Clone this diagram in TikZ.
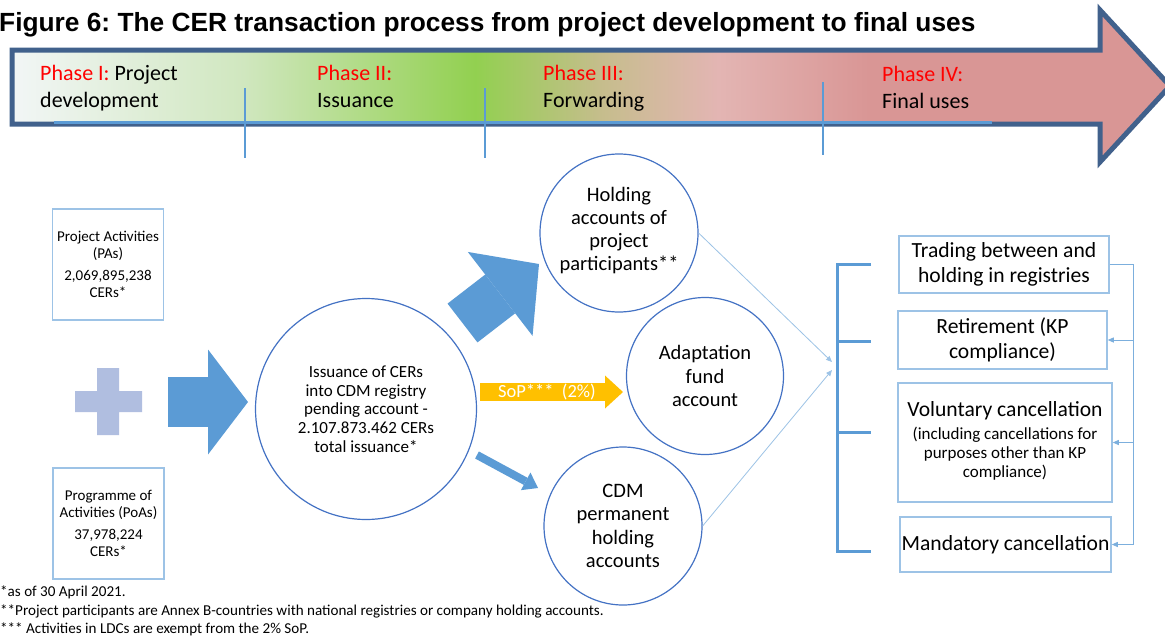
\documentclass[tikz,border=0pt]{standalone}
\usepackage{fontspec}
\setmainfont{Carlito}
\newfontfamily\titlefont{Liberation Sans}
\usetikzlibrary{arrows.meta,calc}
\definecolor{phaseedge}{HTML}{41618C}
\definecolor{sepblue}{HTML}{5B9BD5}
\definecolor{boxblue}{HTML}{9DC3E6}
\definecolor{circblue}{HTML}{4472C4}
\definecolor{blockblue}{HTML}{5B9BD5}
\definecolor{plusblue}{HTML}{B0BEE0}
\definecolor{sopyellow}{HTML}{FFC000}
\definecolor{phasered}{HTML}{FF0000}
\definecolor{gA}{HTML}{F2F6F6}
\definecolor{gB}{HTML}{D0E7BF}
\definecolor{gC}{HTML}{92D050}
\definecolor{gD}{HTML}{C6BD8D}
\definecolor{gE}{HTML}{E3B5B3}
\definecolor{gF}{HTML}{D99695}
\pgfdeclarehorizontalshading{phaseshade}{100bp}{color(0bp)=(gA); color(25bp)=(gA); color(35bp)=(gB); color(45bp)=(gC); color(50.5bp)=(gD); color(55.5bp)=(gE); color(62bp)=(gF); color(100bp)=(gF)}
\frenchspacing
\begin{document}
\begin{tikzpicture}[x=1pt,y=-1pt,
  phasetxt/.style={anchor=west, align=left, inner sep=0pt, font=\fontsize{22}{27}\selectfont},
  sepline/.style={draw=sepblue, line width=2pt},
  srcbox/.style={draw=boxblue, line width=1.5pt, minimum width=111pt, minimum height=111pt, align=center, inner sep=0pt, font=\fontsize{15}{17}\selectfont},
  acct/.style={circle, draw=circblue, line width=1.2pt, align=center, inner sep=0pt, font=\fontsize{20.5}{23.3}\selectfont},
  usebox/.style={draw=boxblue, line width=1.5pt, align=center, inner sep=0pt, font=\fontsize{21.6}{24.5}\selectfont},
  thinarrow/.style={draw=boxblue, line width=0.8pt, -{Triangle[length=6pt,width=5pt]}},
  fbline/.style={draw=sepblue!80, line width=0.8pt},
  fbarrow/.style={draw=sepblue!80, line width=0.8pt, -{Triangle[length=6pt,width=5pt]}},
  bracketline/.style={draw=sepblue, line width=3pt},
  note/.style={anchor=west, inner sep=0pt, font=\fontsize{15.1}{19}\selectfont}
]
\useasboundingbox (0,0) rectangle (1165,635);
\fill[white] (0,0) rectangle (1165,635);

% title
\node[anchor=base west, inner sep=0pt, font=\titlefont\bfseries\fontsize{26.3}{30}\selectfont] (title) at (-1,31) {Figure 6: The CER transaction process from project development to final uses};

% phase arrow
\shadedraw[shading=phaseshade, draw=phaseedge, line width=5pt, line join=miter] (12,50) -- (1100,50) -- (1100,10) -- (1170,86) -- (1100,162) -- (1100,124) -- (12,124) -- cycle;
\draw[sepblue, line width=3pt] (54,122.5) -- (992,122.5);
\draw[sepline] (245,88) -- (245,158);
\draw[sepline] (485,88) -- (485,158);
\draw[sepline] (823,82) -- (823,155);

\node[phasetxt] (p1) at (40,89) {\strut\textcolor{phasered}{Phase I:} Project\\\strut development};
\node[phasetxt] (p2) at (317,89) {\strut\textcolor{phasered}{Phase II:}\\\strut Issuance};
\node[phasetxt] (p3) at (543,89) {\strut\textcolor{phasered}{Phase III:}\\\strut Forwarding};
\node[phasetxt] (p4) at (882,90) {\strut\textcolor{phasered}{Phase IV:}\\\strut Final uses};

% source boxes
\node[srcbox] (pa) at (108,264.5) {Project Activities\\(PAs)\\[5pt]2,069,895,238\\CERs*};
\node[srcbox] (poa) at (108.5,523.5) {Programme of\\Activities (PoAs)\\[5pt]37,978,224\\CERs*};
\fill[plusblue] (97,368) rectangle (119,435) (75,391) rectangle (142,412);

% circles
\node[acct, minimum size=221pt, font=\fontsize{17}{18.75}\selectfont] (iss) at (366,409) {Issuance of CERs\\into CDM registry\\pending account -\\2.107.873.462 CERs\\total issuance*};
\node[acct, minimum size=158pt] (hold) at (619,233) {Holding\\accounts of\\project\\participants**\\[-15pt]\mbox{}};
\node[acct, minimum size=157pt] (adapt) at (705,376) {Adaptation\\fund\\account};
\node[acct, minimum size=158pt] (cdm) at (623,526) {CDM\\permanent\\holding\\accounts};

% block arrows
\coordinate (a1s) at (168,402); \coordinate (a1e) at (248,402);
\draw[blockblue, line width=50pt, -{Triangle[length=40pt,width=105pt,line width=0pt]}] (a1s) -- (a1e);
\coordinate (a2s) at (462.5,323); \coordinate (a2e) at (539,264);
\draw[blockblue, line width=49pt, -{Triangle[length=49pt,width=106pt,line width=0pt]}] (a2s) -- (a2e);
\coordinate (a3s) at (480,392); \coordinate (a3e) at (623,392);
\draw[sopyellow, line width=18pt, -{Triangle[length=18pt,width=33pt,line width=0pt]}] (a3s) -- (a3e);
\node[text=white, inner sep=0pt, font=\fontsize{18.5}{20}\selectfont] (sop) at (547,392) {SoP***\ \ (2\%)};
\coordinate (a4s) at (477,455); \coordinate (a4e) at (538,488);
\draw[blockblue, line width=8pt, -{Triangle[length=14pt,width=20pt,line width=0pt]}] (a4s) -- (a4e);

% thin arrows to final uses
\coordinate (mergeA) at (832,362); \coordinate (mergeB) at (832,370);
\draw[thinarrow] (hold.east) -- (mergeA);
\draw[thinarrow] (cdm.east) -- (mergeB);

% bracket
\draw[bracketline] (871,264) -- (837,264) -- (837,551) -- (871,551);
\draw[bracketline] (837,341) -- (871,341);
\draw[bracketline] (837,432) -- (871,432);

% final use boxes
\node[usebox, minimum width=210pt, minimum height=57pt] (trade) at (1004,264.5) {Trading between and\\holding in registries};
\node[usebox, minimum width=209pt, minimum height=58pt] (retire) at (1002.5,340) {Retirement (KP\\compliance)};
\node[usebox, minimum width=214pt, minimum height=119pt] (volun) at (1005,442.5) {Voluntary cancellation\\[5pt]{\fontsize{17}{19}\selectfont\begin{tabular}{@{}c@{}}(including cancellations for\\purposes other than KP\\compliance)\end{tabular}}};
\node[usebox, minimum width=211pt, minimum height=55pt] (mand) at (1005.5,544.5) {Mandatory cancellation};

\draw[fbline] (trade.east) -- ++(24,0) coordinate (fbtop) -- (fbtop |- mand.east);
\draw[fbarrow] (fbtop |- retire.east) -- (retire.east);
\draw[fbarrow] (fbtop |- volun.east) -- (volun.east);
\draw[fbarrow] (fbtop |- mand.east) -- (mand.east);

% notes
\node[note] (n1) at (0,592) {*as of 30 April 2021.};
\node[note] (n2) at (0,611) {**Project participants are Annex B-countries with national registries or company holding accounts.};
\node[note] (n3) at (0,629) {*** Activities in LDCs are exempt from the 2\% SoP.};
\end{tikzpicture}
\end{document}
